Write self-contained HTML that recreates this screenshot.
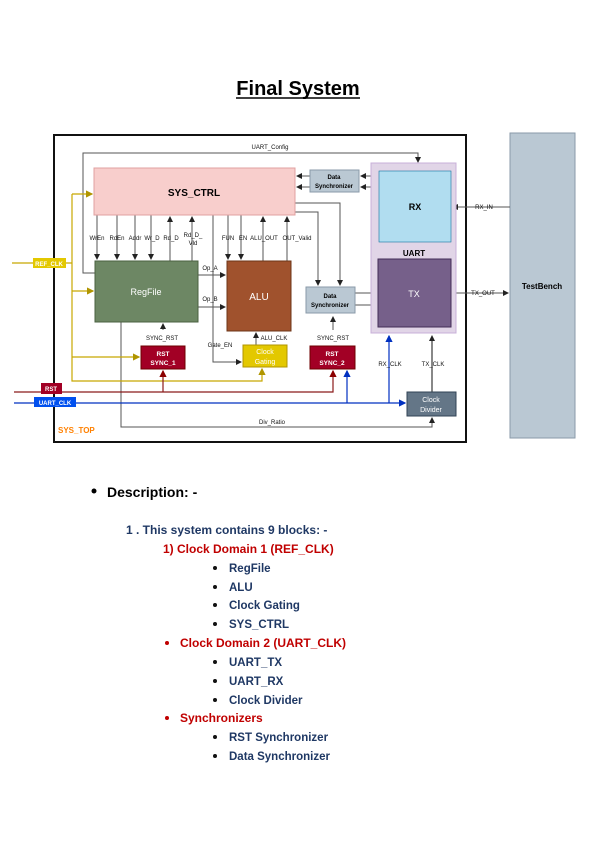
<!DOCTYPE html>
<html><head><meta charset="utf-8"><style>
body{margin:0;background:#fff;}
svg{display:block;font-family:"Liberation Sans",sans-serif;}
</style></head><body>
<svg width="596" height="842" viewBox="0 0 596 842" xmlns="http://www.w3.org/2000/svg">
<defs>
<marker id="a" markerWidth="6" markerHeight="6" refX="5" refY="3" orient="auto"><path d="M0,0 L6,3 L0,6 z" fill="#222"/></marker>
<marker id="y" markerWidth="6" markerHeight="6" refX="5" refY="3" orient="auto"><path d="M0,0 L6,3 L0,6 z" fill="#b09500"/></marker>
<marker id="r" markerWidth="6" markerHeight="6" refX="5" refY="3" orient="auto"><path d="M0,0 L6,3 L0,6 z" fill="#8b0000"/></marker>
<marker id="b" markerWidth="6" markerHeight="6" refX="5" refY="3" orient="auto"><path d="M0,0 L6,3 L0,6 z" fill="#0030c0"/></marker>
</defs>
<text x="298" y="95" text-anchor="middle" font-size="20" font-weight="bold">Final System</text>
<line x1="236" y1="98" x2="360" y2="98" stroke="#000" stroke-width="1.5"/>

<rect x="54" y="135" width="412" height="307" fill="#fff" stroke="#111" stroke-width="2"/>
<rect x="510" y="133" width="65" height="305" fill="#bac8d3" stroke="#8a9aa8"/>
<text x="542" y="289" text-anchor="middle" font-size="8" font-weight="bold">TestBench</text>

<g stroke="#555" stroke-width="1" fill="none">
<polyline points="95,273 83,273 83,153 418,153 418,162" marker-end="url(#a)"/>
<polyline points="121,322 121,427 432,427 432,418" marker-end="url(#a)"/>
<polyline points="213,215 213,362 241,362" marker-end="url(#a)"/>
<polyline points="295,203 340,203 340,285" marker-end="url(#a)"/>
<polyline points="295,212 318,212 318,285" marker-end="url(#a)"/>
<line x1="97" y1="215" x2="97" y2="259" marker-end="url(#a)"/>
<line x1="117" y1="215" x2="117" y2="259" marker-end="url(#a)"/>
<line x1="135" y1="215" x2="135" y2="259" marker-end="url(#a)"/>
<line x1="151" y1="215" x2="151" y2="259" marker-end="url(#a)"/>
<line x1="170" y1="261" x2="170" y2="217" marker-end="url(#a)"/>
<line x1="192" y1="261" x2="192" y2="217" marker-end="url(#a)"/>
<line x1="228" y1="215" x2="228" y2="259" marker-end="url(#a)"/>
<line x1="241" y1="215" x2="241" y2="259" marker-end="url(#a)"/>
<line x1="263" y1="261" x2="263" y2="217" marker-end="url(#a)"/>
<line x1="287" y1="261" x2="287" y2="217" marker-end="url(#a)"/>
<line x1="198" y1="275" x2="225" y2="275" marker-end="url(#a)"/>
<line x1="198" y1="307" x2="225" y2="307" marker-end="url(#a)"/>
<line x1="256" y1="345" x2="256" y2="333" marker-end="url(#a)"/>
<line x1="163" y1="330" x2="163" y2="324" marker-end="url(#a)"/>
<line x1="333" y1="330" x2="333" y2="317" marker-end="url(#a)"/>
<line x1="310" y1="176" x2="297" y2="176" marker-end="url(#a)"/>
<line x1="310" y1="187" x2="297" y2="187" marker-end="url(#a)"/>
<line x1="379" y1="176" x2="361" y2="176" marker-end="url(#a)"/>
<line x1="379" y1="187" x2="361" y2="187" marker-end="url(#a)"/>
<line x1="355" y1="293" x2="376" y2="293" marker-end="url(#a)"/>
<line x1="355" y1="305" x2="376" y2="305" marker-end="url(#a)"/>
<line x1="510" y1="207" x2="453" y2="207" marker-end="url(#a)"/>
<line x1="451" y1="293" x2="508" y2="293" marker-end="url(#a)"/>
<line x1="432" y1="392" x2="432" y2="336" stroke="#111" marker-end="url(#a)"/>
</g>

<g stroke="#c8a800" stroke-width="1.2" fill="none">
<line x1="12" y1="263" x2="72" y2="263"/>
<polyline points="72,194 72,381 262,381 262,369" marker-end="url(#y)"/>
<line x1="72" y1="194" x2="92" y2="194" marker-end="url(#y)"/>
<line x1="72" y1="291" x2="93" y2="291" marker-end="url(#y)"/>
<line x1="72" y1="357" x2="139" y2="357" marker-end="url(#y)"/>
</g>
<g stroke="#8b1a1a" stroke-width="1.2" fill="none">
<polyline points="14,392 333,392 333,371" marker-end="url(#r)"/>
<line x1="163" y1="392" x2="163" y2="371" marker-end="url(#r)"/>
</g>
<g stroke="#0030c0" stroke-width="1.2" fill="none">
<line x1="14" y1="403" x2="405" y2="403" marker-end="url(#b)"/>
<line x1="347" y1="403" x2="347" y2="371" marker-end="url(#b)"/>
<line x1="389" y1="403" x2="389" y2="336" marker-end="url(#b)"/>
</g>

<rect x="94" y="168" width="201" height="47" fill="#f8cecc" stroke="#e0a0a0"/>
<text x="194" y="196" text-anchor="middle" font-size="10" font-weight="bold">SYS_CTRL</text>
<rect x="95" y="261" width="103" height="61" fill="#6d8764" stroke="#4a6040"/>
<text x="146" y="295" text-anchor="middle" font-size="9" fill="#fff">RegFile</text>
<rect x="227" y="261" width="64" height="70" fill="#a0522d" stroke="#6d3518"/>
<text x="259" y="300" text-anchor="middle" font-size="10" fill="#fff">ALU</text>
<rect x="141" y="346" width="44" height="23" fill="#a20025" stroke="#6f0000"/>
<text x="163" y="356" text-anchor="middle" font-size="6.5" font-weight="bold" fill="#fff">RST</text>
<text x="163" y="365" text-anchor="middle" font-size="6.5" font-weight="bold" fill="#fff">SYNC_1</text>
<rect x="310" y="346" width="45" height="23" fill="#a20025" stroke="#6f0000"/>
<text x="332" y="356" text-anchor="middle" font-size="6.5" font-weight="bold" fill="#fff">RST</text>
<text x="332" y="365" text-anchor="middle" font-size="6.5" font-weight="bold" fill="#fff">SYNC_2</text>
<rect x="243" y="345" width="44" height="22" fill="#e3c800" stroke="#b09500"/>
<text x="265" y="354" text-anchor="middle" font-size="7" fill="#fff">Clock</text>
<text x="265" y="364" text-anchor="middle" font-size="7" fill="#fff">Gating</text>
<rect x="310" y="170" width="49" height="22" fill="#bac8d3" stroke="#8a9aa8"/>
<text x="334" y="179" text-anchor="middle" font-size="6" font-weight="bold">Data</text>
<text x="334" y="188" text-anchor="middle" font-size="6" font-weight="bold">Synchronizer</text>
<rect x="306" y="287" width="49" height="26" fill="#bac8d3" stroke="#8a9aa8"/>
<text x="330" y="298" text-anchor="middle" font-size="6" font-weight="bold">Data</text>
<text x="330" y="307" text-anchor="middle" font-size="6" font-weight="bold">Synchronizer</text>
<rect x="371" y="163" width="85" height="170" fill="#e1d5e7" stroke="#c8b0d8"/>
<rect x="379" y="171" width="72" height="71" fill="#b1ddf0" stroke="#10739e" stroke-width="0.6"/>
<text x="415" y="210" text-anchor="middle" font-size="9" font-weight="bold">RX</text>
<text x="414" y="256" text-anchor="middle" font-size="8" font-weight="bold">UART</text>
<rect x="378" y="259" width="73" height="68" fill="#76608a" stroke="#432d57"/>
<text x="414" y="297" text-anchor="middle" font-size="9" fill="#fff">TX</text>
<rect x="407" y="392" width="49" height="24" fill="#647687" stroke="#314354"/>
<text x="431" y="402" text-anchor="middle" font-size="7" fill="#fff">Clock</text>
<text x="431" y="412" text-anchor="middle" font-size="7" fill="#fff">Divider</text>

<rect x="33" y="258" width="33" height="10" fill="#e3c800"/>
<text x="49" y="266" text-anchor="middle" font-size="6" font-weight="bold" fill="#fff">REF_CLK</text>
<rect x="41" y="383" width="21" height="11" fill="#a20025"/>
<text x="51" y="391" text-anchor="middle" font-size="6" font-weight="bold" fill="#fff">RST</text>
<rect x="34" y="397" width="42" height="10" fill="#0050ef"/>
<text x="55" y="405" text-anchor="middle" font-size="6" font-weight="bold" fill="#fff">UART_CLK</text>

<g font-size="6" fill="#111" text-anchor="middle">
<text x="270" y="149">UART_Config</text>
<text x="97" y="240">WrEn</text><text x="117" y="240">RdEn</text><text x="135" y="240">Addr</text>
<text x="152" y="240">Wr_D</text><text x="171" y="240">Rd_D</text>
<text x="193" y="237">Rd_D_</text><text x="193" y="245">Vld</text>
<text x="228" y="240">FUN</text><text x="243" y="240">EN</text>
<text x="264" y="240">ALU_OUT</text><text x="297" y="240">OUT_Valid</text>
<text x="210" y="270">Op_A</text><text x="210" y="301">Op_B</text>
<text x="162" y="340">SYNC_RST</text><text x="333" y="340">SYNC_RST</text>
<text x="220" y="347">Gate_EN</text><text x="274" y="340">ALU_CLK</text>
<text x="390" y="366">RX_CLK</text><text x="433" y="366">TX_CLK</text>
<text x="484" y="209">RX_IN</text><text x="483" y="295">TX_OUT</text>
<text x="272" y="424">Div_Ratio</text>
</g>
<text x="58" y="433" font-size="8" font-weight="bold" fill="#ff8000">SYS_TOP</text>

<g font-weight="bold">
<circle cx="94" cy="491" r="2.5" fill="#000"/>
<text x="107" y="497" font-size="14" fill="#000">Description: -</text>
<text x="126" y="534" font-size="12" fill="#1f3864">1 . This system contains 9 blocks: -</text>
<g fill="#c00000" font-size="12">
<text x="163" y="553">1)  Clock Domain 1 (REF_CLK)</text>
<circle cx="167" cy="643" r="2" /><text x="180" y="647">Clock Domain 2 (UART_CLK)</text>
<circle cx="167" cy="718" r="2" /><text x="180" y="722">Synchronizers</text>
</g>
<g fill="#1f3864" font-size="11.5">
<text x="229" y="572">RegFile</text><text x="229" y="591">ALU</text><text x="229" y="609">Clock Gating</text>
<text x="229" y="628">SYS_CTRL</text><text x="229" y="666">UART_TX</text><text x="229" y="685">UART_RX</text>
<text x="229" y="704">Clock Divider</text><text x="229" y="741">RST Synchronizer</text><text x="229" y="760">Data Synchronizer</text>
</g>
<g fill="#111">
<circle cx="215" cy="568" r="2"/><circle cx="215" cy="587" r="2"/><circle cx="215" cy="605" r="2"/><circle cx="215" cy="624" r="2"/>
<circle cx="215" cy="662" r="2"/><circle cx="215" cy="681" r="2"/><circle cx="215" cy="700" r="2"/>
<circle cx="215" cy="737" r="2"/><circle cx="215" cy="756" r="2"/>
</g>
</g>
</svg>
</body></html>
